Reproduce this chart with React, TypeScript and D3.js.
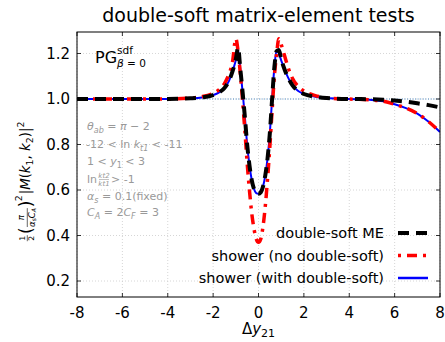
import React from "react";
import * as d3 from "d3";

const xTicks = [-8, -6, -4, -2, 0, 2, 4, 6, 8];
const yTicks = [0.2, 0.4, 0.6, 0.8, 1.0, 1.2];

const dy21 = [
  -8, -7, -6, -5, -4, -3, -2.5, -2, -1.75, -1.5, -1.3, -1.15, -1.0, -0.9, -0.8, -0.7, -0.6, -0.5, -0.4, -0.3,
  -0.2, -0.1, 0, 0.1, 0.2, 0.3, 0.4, 0.5, 0.6, 0.7, 0.8, 0.9, 1.0, 1.15, 1.3, 1.5, 1.75, 2, 2.5, 3, 4, 5, 5.5, 6,
  6.5, 7, 7.5, 8,
];

const showerWithDS = [
  1.0, 1.0, 1.0, 1.0, 1.0, 1.003, 1.007, 1.017, 1.028, 1.048, 1.08, 1.12, 1.17, 1.215, 1.13, 1.03, 0.92, 0.8,
  0.71, 0.645, 0.605, 0.586, 0.583, 0.59, 0.615, 0.665, 0.74, 0.85, 1.0, 1.14, 1.215, 1.2, 1.17, 1.13, 1.095,
  1.06, 1.035, 1.022, 1.01, 1.004, 1.0, 0.996, 0.99, 0.977, 0.96, 0.936, 0.9, 0.855,
];

const doubleSoftME = [
  1.0, 1.0, 1.0, 1.0, 1.0, 1.003, 1.007, 1.017, 1.028, 1.048, 1.08, 1.12, 1.175, 1.225, 1.13, 1.03, 0.92, 0.8,
  0.71, 0.645, 0.605, 0.586, 0.583, 0.59, 0.615, 0.665, 0.74, 0.85, 1.0, 1.14, 1.21, 1.215, 1.175, 1.13, 1.095,
  1.06, 1.035, 1.022, 1.01, 1.004, 1.0, 0.999, 0.997, 0.993, 0.988, 0.981, 0.973, 0.963,
];

const showerNoDS = [
  1.0, 1.0, 1.0, 1.0, 1.0, 1.004, 1.01, 1.025, 1.04, 1.068, 1.11, 1.16, 1.265, 1.21, 1.11, 0.99, 0.86, 0.72,
  0.6, 0.5, 0.43, 0.385, 0.37, 0.385, 0.44, 0.53, 0.65, 0.79, 0.95, 1.1, 1.2, 1.265, 1.24, 1.19, 1.14, 1.09,
  1.055, 1.035, 1.015, 1.005, 1.0, 0.996, 0.99, 0.977, 0.96, 0.936, 0.9, 0.855,
];

const legendLabels = ["double-soft ME", "shower (no double-soft)", "shower (with double-soft)"];

const W = 445;
const H = 342;
const L = 77;
const R = 440;
const T = 32;
const B = 297;
const FONT = "DejaVu Sans, sans-serif";

export default function App() {
  const x = d3.scaleLinear().domain([-8, 8]).range([L, R]);
  const y = d3.scaleLinear().domain([0.1297, 1.2945]).range([B, T]);

  const mk = (vals: number[]) =>
    d3
      .line<number>()
      .x((_, i) => x(dy21[i]))
      .y((v) => y(v))
      .curve(d3.curveMonotoneX)(vals) as string;

  const series = [
    { vals: showerWithDS, color: "#0000ff", width: 2, dash: "none" },
    { vals: showerNoDS, color: "#ff0000", width: 3.5, dash: "10,6,3,6" },
    { vals: doubleSoftME, color: "#000000", width: 4, dash: "11,7" },
  ];

  const legendStyles = [
    { color: "#000000", width: 4, dash: "11,7", offset: 0 },
    { color: "#ff0000", width: 3.5, dash: "10,6,3,6", offset: 16 },
    { color: "#0000ff", width: 2.5, dash: "none", offset: 0 },
  ];

  return (
    <div style={{ position: "absolute", left: 0, top: 0 }}>
      <svg width={W} height={H} style={{ display: "block", background: "#fff" }} fontFamily={FONT}>
        <defs>
          <clipPath id="plotclip">
            <rect x={L} y={T} width={R - L} height={B - T} />
          </clipPath>
        </defs>
        {/* grid */}
        {xTicks.map((t) => (
          <line key={"gx" + t} x1={x(t)} x2={x(t)} y1={T} y2={B} stroke="#cccccc" strokeWidth={0.8} strokeDasharray="1,2" />
        ))}
        {yTicks.map((t) => (
          <line key={"gy" + t} x1={L} x2={R} y1={y(t)} y2={y(t)} stroke="#cccccc" strokeWidth={0.8} strokeDasharray="1,2" />
        ))}
        <line x1={L} x2={R} y1={y(1)} y2={y(1)} stroke="#3b7fc0" strokeWidth={0.9} strokeDasharray="1,1.6" />

        <g clipPath="url(#plotclip)">
          {series.map((s, i) => (
            <path key={i} d={mk(s.vals)} fill="none" stroke={s.color} strokeWidth={s.width} strokeDasharray={s.dash} />
          ))}
        </g>

        {/* frame */}
        <rect x={L} y={T} width={R - L} height={B - T} fill="none" stroke="#000" strokeWidth={1} />
        {xTicks.map((t) => (
          <g key={"tx" + t}>
            <line x1={x(t)} x2={x(t)} y1={B} y2={B - 4} stroke="#000" strokeWidth={0.8} />
            <line x1={x(t)} x2={x(t)} y1={T} y2={T + 4} stroke="#000" strokeWidth={0.8} />
            <text x={x(t)} y={318} fontSize={15} textAnchor="middle" fill="#000">
              {String(t)}
            </text>
          </g>
        ))}
        {yTicks.map((t) => (
          <g key={"ty" + t}>
            <line x1={L} x2={L + 4} y1={y(t)} y2={y(t)} stroke="#000" strokeWidth={0.8} />
            <line x1={R} x2={R - 4} y1={y(t)} y2={y(t)} stroke="#000" strokeWidth={0.8} />
            <text x={70} y={y(t)} dy="0.36em" fontSize={15} textAnchor="end" fill="#000">
              {t.toFixed(1)}
            </text>
          </g>
        ))}

        {/* title */}
        <text x={(L + R) / 2} y={22} fontSize={19} textAnchor="middle" fill="#000">
          double-soft matrix-element tests
        </text>

        {/* x label */}
        <text x={(L + R) / 2} y={334} fontSize={15} textAnchor="middle" fill="#000">
          Δ<tspan fontStyle="italic">y</tspan>
          <tspan fontSize={11} dy={3}>21</tspan>
        </text>

        {/* y label */}
        <g transform="translate(26,178) rotate(-90) scale(0.86)" fill="#000">
          <text x={-70} y={-1} fontSize={9} textAnchor="middle">1</text>
          <line x1={-73.5} x2={-66.5} y1={1.5} y2={1.5} stroke="#000" strokeWidth={0.7} />
          <text x={-70} y={9} fontSize={9} textAnchor="middle">2</text>
          <text x={-65} y={7} fontSize={20}>(</text>
          <text x={-46} y={-2} fontSize={10} textAnchor="middle" fontStyle="italic">π</text>
          <line x1={-57} x2={-35} y1={1.5} y2={1.5} stroke="#000" strokeWidth={0.7} />
          <text x={-46} y={10} fontSize={10} textAnchor="middle">
            <tspan fontStyle="italic">α</tspan>
            <tspan fontSize={7} dy={2}>s</tspan>
            <tspan fontStyle="italic" dy={-2}>C</tspan>
            <tspan fontSize={7} dy={2} fontStyle="italic">A</tspan>
          </text>
          <text x={-34} y={7} fontSize={20}>)</text>
          <text x={-27} y={-5} fontSize={11}>2</text>
          <text x={-19} y={5} fontSize={15.5}>
            <tspan>|</tspan>
            <tspan fontStyle="italic">M</tspan>
            <tspan>(</tspan>
            <tspan fontStyle="italic">k</tspan>
            <tspan fontSize={11} dy={3}>1</tspan>
            <tspan dy={-3}>, </tspan>
            <tspan fontStyle="italic">k</tspan>
            <tspan fontSize={11} dy={3}>2</tspan>
            <tspan dy={-3}>)|</tspan>
            <tspan fontSize={11} dy={-7}>2</tspan>
          </text>
        </g>

        {/* PG annotation */}
        <text x={95} y={63} fontSize={16} fill="#000">PG</text>
        <text x={117} y={54} fontSize={10.5} fill="#000">sdf</text>
        <text x={117} y={67} fontSize={10.5} fill="#000">
          <tspan fontStyle="italic">β</tspan> = 0
        </text>

        {/* gray annotations */}
        <g fill="#999999" fontSize={11}>
          <text x={87} y={130}>
            <tspan fontStyle="italic">θ</tspan>
            <tspan fontSize={8} dy={2.5} fontStyle="italic">ab</tspan>
            <tspan dy={-2.5}> = </tspan>
            <tspan fontStyle="italic">π</tspan> − 2
          </text>
          <text x={86} y={148}>
            -12 &lt; ln <tspan fontStyle="italic">k</tspan>
            <tspan fontSize={8} dy={2.5} fontStyle="italic">t1</tspan>
            <tspan dy={-2.5}> &lt; -11</tspan>
          </text>
          <text x={87} y={165}>
            1 &lt; <tspan fontStyle="italic">y</tspan>
            <tspan fontSize={8} dy={2.5}>1</tspan>
            <tspan dy={-2.5}> &lt; 3</tspan>
          </text>
          <text x={87} y={183}>ln</text>
          <text x={104} y={178} fontSize={7} textAnchor="middle">
            <tspan fontStyle="italic">k</tspan>
            <tspan fontStyle="italic">t2</tspan>
          </text>
          <line x1={99} x2={109} y1={179.5} y2={179.5} stroke="#999999" strokeWidth={0.6} />
          <text x={104} y={186} fontSize={7} textAnchor="middle">
            <tspan fontStyle="italic">k</tspan>
            <tspan fontStyle="italic">t1</tspan>
          </text>
          <text x={111} y={183}>&gt; -1</text>
          <text x={87} y={200}>
            <tspan fontStyle="italic">α</tspan>
            <tspan fontSize={8} dy={2.5} fontStyle="italic">s</tspan>
            <tspan dy={-2.5}> = 0.1(fixed)</tspan>
          </text>
          <text x={87} y={216}>
            <tspan fontStyle="italic">C</tspan>
            <tspan fontSize={8} dy={2.5} fontStyle="italic">A</tspan>
            <tspan dy={-2.5}> = 2</tspan>
            <tspan fontStyle="italic">C</tspan>
            <tspan fontSize={8} dy={2.5} fontStyle="italic">F</tspan>
            <tspan dy={-2.5}> = 3</tspan>
          </text>
        </g>

        {/* legend */}
        {legendLabels.map((lab, i) => {
          const cy = 233 + i * 22.5;
          const st = legendStyles[i];
          return (
            <g key={lab}>
              <text x={384} y={cy + 5} fontSize={14.5} textAnchor="end" fill="#000">
                {lab}
              </text>
              <line
                x1={398}
                x2={428}
                y1={cy}
                y2={cy}
                stroke={st.color}
                strokeWidth={st.width}
                strokeDasharray={st.dash}
                strokeDashoffset={st.offset}
              />
            </g>
          );
        })}
      </svg>
    </div>
  );
}
